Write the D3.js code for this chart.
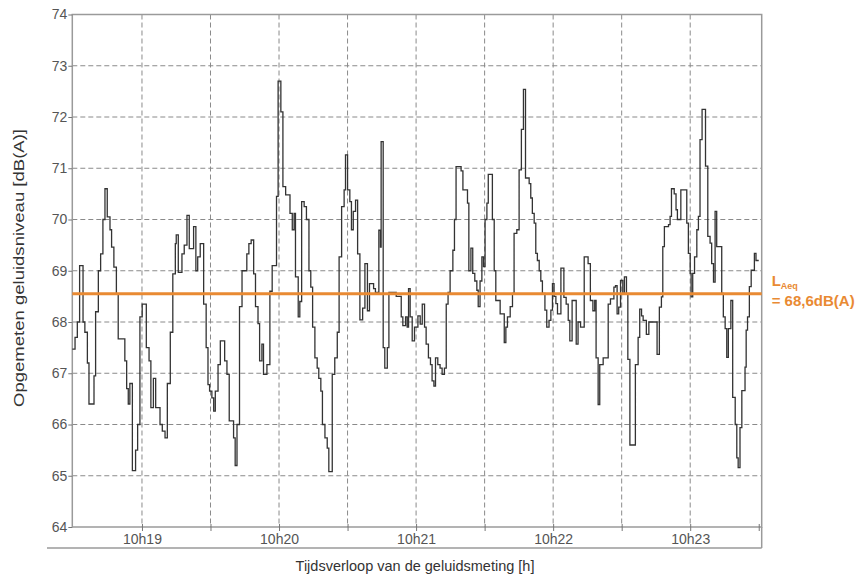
<!DOCTYPE html>
<html>
<head>
<meta charset="utf-8">
<style>
body { margin: 0; background: #fff; }
svg { font-family: "Liberation Sans", Arial, sans-serif; }
</style>
</head>
<body>
<svg width="860" height="581"></svg>
<script src="https://d3js.org/d3.v7.min.js"></script>
<script>
// seconds after 10:18:00, level holds until the next time (step)
var times = [
  29.5, 30.7, 31.7, 32.7, 34.2, 35.0, 36.1, 36.8, 39.0, 39.7, 40.9, 41.9, 42.9, 43.8, 44.8, 46.0, 46.7, 47.7, 48.8, 49.6,
  52.5, 53.3, 54.0, 54.7, 55.8, 57.2, 58.1, 59.1, 60.1, 61.9, 63.1, 63.9, 65.0, 66.0, 67.9, 68.9, 70.1, 71.1, 72.4,
  73.5, 74.6, 75.0, 75.9, 77.5, 78.5, 79.7, 80.7, 82.6, 83.6, 84.4, 85.5, 87.0, 88.1, 88.9, 89.6, 90.6, 91.4, 92.1,
  93.3, 94.3, 96.2, 97.2, 98.2, 100.1, 100.8, 101.6, 102.7, 103.8, 105.9, 106.8, 107.8, 108.9, 109.7, 110.8, 111.5,
  112.5, 113.2, 114.7,
  116.0, 117.0, 118.9, 119.6, 120.8, 121.7, 122.9, 124.8, 125.8, 126.6, 127.2, 128.4, 129.1, 129.9, 131.0, 132.0,
  133.1, 133.9, 134.7, 135.7, 136.7, 137.4, 138.3, 139.0, 140.1, 141.1, 141.8, 143.3, 144.4, 145.5, 146.3, 147.4,
  148.5, 149.1, 150.0, 151.0, 151.7, 152.5, 153.5, 154.4, 155.4, 156.6, 157.6,
  158.7, 159.6, 161.4, 162.2, 163.7, 164.4, 164.7, 165.6, 166.3, 167.4, 168.1, 171.3, 173.5, 174.2, 175.4, 176.1,
  176.7, 177.4, 178.3, 179.3, 180.8, 181.8, 182.7, 183.7, 184.4, 185.4, 186.3, 187.0, 187.8, 188.5, 189.5, 190.5,
  191.4, 192.4, 193.2, 194.0, 194.9, 196.1, 196.8, 197.5, 199.7, 200.5,
  202.5, 203.1, 204.0, 204.8, 205.7, 206.6, 207.2, 208.0, 208.8, 209.5, 210.2, 211.0, 211.6, 213.4, 214.2, 214.9,
  216.8, 218.6, 219.3, 220.0, 221.2, 222.2, 222.9, 224.1, 225.1, 226.1, 227.0, 227.9, 229.5, 230.2, 230.9, 231.7,
  232.4, 233.1, 233.9, 234.6, 235.3, 236.4, 237.2, 238.2, 239.0, 239.7, 240.4, 241.2, 241.9, 243.4,
  244.7, 245.7, 246.6, 247.3, 248.3, 250.1, 250.9, 252.0, 253.6, 255.3, 256.3, 257.4, 258.2, 258.8, 259.7, 260.4,
  261.9, 264.1, 265.1, 266.6, 267.3, 268.0, 268.7, 269.5, 270.5, 271.2, 272.1, 272.7, 273.6, 276.0, 277.2, 277.9,
  278.7, 279.4, 280.8, 281.9, 285.5, 286.5,
  287.4, 288.0, 288.7, 290.5, 291.2, 291.8, 293.0, 293.8, 294.4, 295.9, 298.5, 299.2, 300.0, 300.4, 301.1, 301.9,
  302.9, 303.6, 304.3, 305.2, 306.7, 307.7, 308.7, 309.4, 310.2, 310.9, 311.6, 313.8, 314.5, 315.3, 316.0, 316.7,
  317.8, 318.6, 319.7, 320.4, 321.0, 321.8, 322.6, 324.0, 324.5, 325.1, 325.9, 326.7, 328.1, 328.8, 330.0
];
var levels = [
  67.47, 67.7, 68.0, 69.1, 68.0, 67.8, 67.2, 66.4, 66.95, 68.2, 69.0, 69.33, 70.0, 70.6, 70.05, 69.8, 69.46, 69.07, 68.55, 67.67,
  67.24, 66.7, 66.4, 66.8, 65.1, 65.5, 66.0, 68.1, 68.35, 67.5, 67.24, 66.33, 66.9, 66.33, 66.0, 65.87, 65.74, 66.8, 67.8,
  68.94, 69.53, 69.7, 68.97, 69.33, 69.5, 70.08, 69.43, 69.86, 69.0, 69.27, 69.53, 68.35, 67.5, 66.78, 66.65, 66.52, 66.26, 66.65,
  67.17, 67.63, 67.24, 66.98, 66.07, 65.74, 65.2, 66.0, 68.3, 69.0, 69.33, 69.53, 69.6, 68.94, 68.3, 67.97, 67.24,
  67.57, 66.98, 67.17,
  68.6, 69.1, 70.45, 72.7, 72.1, 70.64, 70.48, 70.12, 69.8, 70.12, 68.88, 68.1, 68.4, 70.35, 70.25, 70.0,
  69.0, 68.68, 67.9, 67.3, 67.1, 66.9, 66.65, 66.0, 65.74, 65.54, 65.08, 66.98, 67.3, 67.8, 69.27, 70.25,
  70.58, 71.26, 70.58, 70.35, 69.8, 70.16, 70.38, 69.33, 68.04, 68.27, 69.14,
  68.22, 68.75, 68.65, 68.58, 69.79, 69.46, 71.52, 67.5, 67.1, 67.5, 68.58, 68.5, 68.1, 67.93, 68.1, 67.9,
  68.65, 68.1, 67.63, 67.9, 68.12, 67.96, 68.35, 67.9, 67.57, 67.3, 67.17, 66.85, 66.75, 67.3, 67.17, 67.1,
  66.98, 67.1, 68.35, 68.58, 69.0, 69.4, 70.0, 71.03, 70.95, 70.58,
  70.32, 69.0, 69.44, 68.95, 68.8, 68.62, 68.3, 68.8, 69.27, 69.08, 70.0, 70.32, 70.88, 70.0, 69.0, 68.42,
  68.16, 67.6, 67.9, 68.1, 68.3, 68.56, 69.73, 69.8, 70.97, 71.76, 72.54, 70.81, 70.7, 70.42, 70.12, 69.93,
  69.34, 69.2, 69.0, 68.8, 68.56, 68.23, 67.9, 68.03, 68.23, 68.75, 68.5, 68.36, 68.16, 69.05,
  68.48, 68.35, 68.03, 67.63, 68.42, 67.57, 68.0, 67.9, 69.27, 69.14, 68.42, 68.22, 68.42, 67.3, 66.39, 67.17,
  67.3, 68.35, 68.45, 68.68, 68.71, 68.16, 68.29, 68.81, 68.55, 68.88, 68.55, 67.27, 65.6, 67.17, 67.7, 68.25,
  68.12, 68.03, 67.76, 68.0, 67.37, 68.29,
  68.49, 69.47, 69.86, 69.9, 70.06, 70.6, 70.5, 70.19, 70.0, 70.58, 69.93, 69.34, 68.95, 68.49, 68.95, 69.27,
  69.8, 70.06, 71.56, 72.15, 71.04, 69.67, 69.54, 69.14, 68.78, 70.16, 69.47, 68.56, 68.1, 67.87, 67.31, 67.87,
  68.42, 66.53, 66.0, 65.35, 65.16, 65.94, 66.66, 67.12, 67.84, 68.1, 68.69, 69.01, 69.34, 69.2, 69.2
];
var laeq = 68.55;
var yTicks = [64, 65, 66, 67, 68, 69, 70, 71, 72, 73, 74];
var xGridSecs = [60, 90, 120, 150, 180, 210, 240, 270, 300, 330];
var xLabelSecs = [60, 120, 180, 240, 300];
var xLabels = ["10h19", "10h20", "10h21", "10h22", "10h23"];

var svg = d3.select("svg");
var L = 72.3, R = 761.7, T = 14.5, B = 527;

var x = d3.scaleLinear().domain([29.5, 331.3]).range([L, R]);
var y = d3.scaleLinear().domain([64, 74]).range([B, T]);

// grid
svg.append("g").selectAll("line").data(yTicks.slice(1, -1)).enter().append("line")
  .attr("x1", L).attr("x2", R)
  .attr("y1", function(d) { return y(d); }).attr("y2", function(d) { return y(d); })
  .attr("stroke", "#8a8a8a").attr("stroke-width", 1).attr("stroke-dasharray", "5,3");
svg.append("g").selectAll("line").data(xGridSecs.slice(0, -1)).enter().append("line")
  .attr("x1", function(d) { return x(d); }).attr("x2", function(d) { return x(d); })
  .attr("y1", T).attr("y2", B)
  .attr("stroke", "#8a8a8a").attr("stroke-width", 1).attr("stroke-dasharray", "5,3");

// frame
svg.append("rect").attr("x", L).attr("y", T).attr("width", R - L).attr("height", B - T)
  .attr("fill", "none").attr("stroke", "#9a9a9a").attr("stroke-width", 1.5);
svg.append("line").attr("x1", 47).attr("x2", R).attr("y1", 548).attr("y2", 548)
  .attr("stroke", "#9a9a9a").attr("stroke-width", 1.5);
svg.append("line").attr("x1", R).attr("x2", R).attr("y1", B).attr("y2", 548)
  .attr("stroke", "#9a9a9a").attr("stroke-width", 1.5);

// y axis
var yAxis = svg.append("g").attr("transform", "translate(" + L + ",0)")
  .call(d3.axisLeft(y).tickValues(yTicks).tickSize(4).tickPadding(1).tickFormat(d3.format("d")));
yAxis.select(".domain").remove();
yAxis.selectAll("line").attr("stroke", "#777");
yAxis.selectAll("text").attr("fill", "#555").style("font-size", "14px");

// x axis
var xAxis = svg.append("g").attr("transform", "translate(0," + B + ")")
  .call(d3.axisBottom(x).tickValues(xGridSecs).tickSize(4).tickPadding(3)
    .tickFormat(function(d) { var i = xLabelSecs.indexOf(d); return i < 0 ? "" : xLabels[i]; }));
xAxis.select(".domain").remove();
xAxis.selectAll("line").attr("stroke", "#777").attr("y1", -3);
xAxis.selectAll("text").attr("fill", "#555").style("font-size", "14px");

// measurement trace
var pts = times.map(function(t, i) { return [t, levels[i]]; });
var line = d3.line().x(function(d) { return x(d[0]); }).y(function(d) { return y(d[1]); })
  .curve(d3.curveStepAfter);
svg.append("path").datum(pts).attr("d", line)
  .attr("fill", "none").attr("stroke", "#333").attr("stroke-width", 1.3);

// LAeq
svg.append("line").attr("x1", L).attr("x2", R).attr("y1", y(laeq)).attr("y2", y(laeq))
  .attr("stroke", "#e98a33").attr("stroke-width", 3);
var lab = svg.append("text").attr("x", R + 10).attr("y", y(laeq) - 8)
  .attr("fill", "#e98a33").style("font-size", "15px").style("font-weight", "bold");
lab.append("tspan").text("L");
lab.append("tspan").attr("dy", 3).style("font-size", "9px").text("Aeq");
svg.append("text").attr("x", R + 10).attr("y", y(laeq) + 12)
  .attr("fill", "#e98a33").style("font-size", "15px").style("font-weight", "bold")
  .text("= " + d3.format(".1f")(laeq + 0.05).replace(".", ",") + "dB(A)");

// titles
svg.append("text").attr("x", 415).attr("y", 571).attr("text-anchor", "middle")
  .attr("fill", "#333").style("font-size", "14.5px").text("Tijdsverloop van de geluidsmeting [h]");
svg.append("text").attr("transform", "translate(24,268) rotate(-90)")
  .attr("text-anchor", "middle").attr("fill", "#333").style("font-size", "15px")
  .attr("textLength", 278).attr("lengthAdjust", "spacingAndGlyphs")
  .text("Opgemeten geluidsniveau [dB(A)]");
</script>
</body>
</html>
